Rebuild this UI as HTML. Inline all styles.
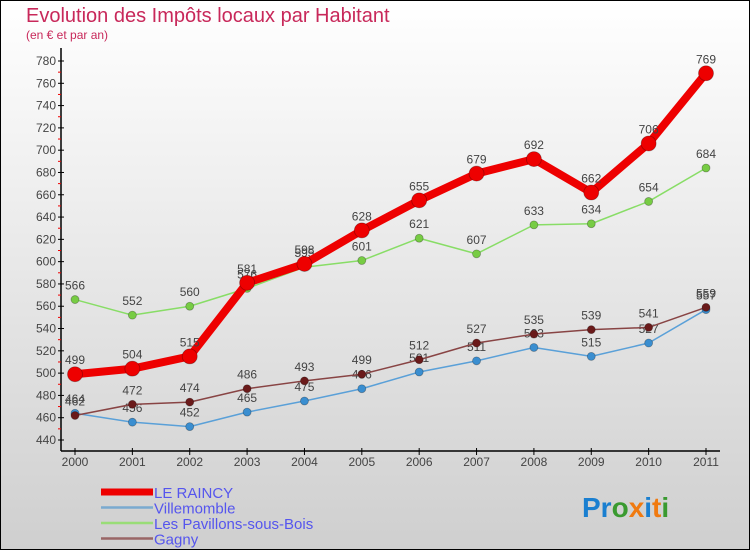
<!DOCTYPE html>
<html><head><meta charset="utf-8"><style>
body{margin:0}
#wrap{width:750px;height:550px;position:relative;box-sizing:border-box;border:1px solid #000;background:linear-gradient(#fff,#cfcfcf);font-family:"Liberation Sans",sans-serif;overflow:hidden}
</style></head><body>
<div id="wrap">
<svg id="chart" width="750" height="550" style="position:absolute;left:-1px;top:-1px">
<text x="26" y="22" font-size="20" fill="#c8285a">Evolution des Impôts locaux par Habitant</text>
<text x="26" y="39" font-size="12" fill="#c8285a">(en € et par an)</text>
<g id="axes"></g><g id="series"></g><g id="legend"></g>
<text x="582" y="517" font-size="28" font-weight="bold"><tspan fill="#1a7fd0">Pr</tspan><tspan fill="#3a9a30">o</tspan><tspan fill="#f07a10">x</tspan><tspan fill="#1a7fd0">i</tspan><tspan fill="#f07a10">t</tspan><tspan fill="#3a9a30">i</tspan></text>
</svg>
</div>
<script>
const years=["2000","2001","2002","2003","2004","2005","2006","2007","2008","2009","2010","2011"];
const yTicks=[440,460,480,500,520,540,560,580,600,620,640,660,680,700,720,740,760,780];
const raincy=[499,504,515,581,598,628,655,679,692,662,706,769];
const villemomble=[464,456,452,465,475,486,501,511,523,515,527,557];
const pavillons=[566,552,560,576,595,601,621,607,633,634,654,684];
const gagny=[462,472,474,486,493,499,512,527,535,539,541,559];
const NS="http://www.w3.org/2000/svg";
const X=i=>75+i*(706-75)/11;
const Y=v=>440-(v-440)*(440-61)/340;
function mk(tag,attrs,parent){const e=document.createElementNS(NS,tag);for(const k in attrs)e.setAttribute(k,attrs[k]);parent.appendChild(e);return e;}
const axes=document.getElementById('axes');
let yl=mk('line',{x1:61,y1:48,x2:61,y2:451,stroke:'#000','stroke-width':1.5},axes);


let xl=mk('line',{x1:61,y1:451,x2:720,y2:451,stroke:'#000','stroke-width':1.5},axes);


yTicks.forEach((v,i)=>{
  mk('line',{x1:58,y1:Y(v),x2:64,y2:Y(v),stroke:'#000'},axes);
  if(i<yTicks.length-1)mk('line',{x1:58,y1:Y(v+10),x2:61,y2:Y(v+10),stroke:'#e00'},axes);
  const t=mk('text',{x:56,y:Y(v)+4,'font-size':12,fill:'#444','text-anchor':'end'},axes);
  t.textContent=v;
  
  
});
years.forEach((y,i)=>{
  mk('line',{x1:X(i),y1:448,x2:X(i),y2:455,stroke:'#000'},axes);
  const t=mk('text',{x:X(i),y:466,'font-size':12,fill:'#444','text-anchor':'middle'},axes);
  t.textContent=y;
  
  
});
const ser=document.getElementById('series');
const defs=[
 {d:pavillons,c:'#88dd66',f:'#77cc44',w:1.5,r:4,n:'pavillons'},
 {d:villemomble,c:'#5aa0d8',f:'#3a8ed0',w:1.5,r:4,n:'villemomble'},
 {d:gagny,c:'#884444',f:'#6a1a1a',w:1.5,r:4,n:'gagny'},
 {d:raincy,c:'#ee0000',f:'#ee0000',w:8,r:7.5,n:'le-raincy'}];
defs.forEach(s=>{
  const g=mk('g',{},ser);
  
  
  const p=mk('polyline',{points:s.d.map((v,i)=>X(i)+','+Y(v)).join(' '),fill:'none',stroke:s.c,'stroke-width':s.w,'stroke-linejoin':'round'},g);
  
  
  s.d.forEach((v,i)=>{
    const c=mk('circle',{cx:X(i),cy:Y(v),r:s.r,fill:s.f,stroke:'rgba(0,0,0,0.3)','stroke-width':0.8},g);
    
    
    const t=mk('text',{x:X(i),y:Y(v)-10,'font-size':12,fill:'#444','text-anchor':'middle'},g);
    t.textContent=v;
    
    
  });
});
const leg=document.getElementById('legend');
[['LE RAINCY','#ee0000',7],['Villemomble','#7aaad0',2.5],['Les Pavillons-sous-Bois','#99dd77',2.5],['Gagny','#996666',2.5]].forEach((e,i)=>{
  const y=492+i*15.5;
  const g=mk('g',{},leg);
  
  
  mk('line',{x1:101,y1:y,x2:153,y2:y,stroke:e[1],'stroke-width':e[2]},g);
  const t=mk('text',{x:154,y:y+6,'font-size':15,fill:'#5555ee'},g);
  t.textContent=e[0];
});
</script>
</body></html>
